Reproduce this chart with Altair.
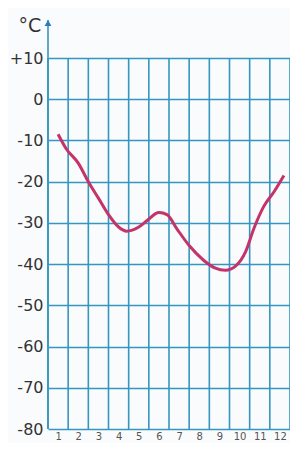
import altair as alt
import pandas as pd

# Curve (month position, temperature °C)
months = [1.0, 1.4, 2.0, 2.5, 3.0, 3.5, 4.0, 4.4, 5.0, 5.4, 6.0, 6.4, 6.9, 7.5,
          8.2, 8.8, 9.3, 9.8, 10.3, 10.7, 11.2, 11.7, 12.2]
temps = [-8.5, -12, -15.5, -20, -24, -28, -31, -32, -31, -29.5, -27.5, -28,
         -31.5, -35.5, -39, -41, -41.5, -40.5, -37, -31.5, -26, -22.5, -18.5]

month_labels = list(range(1, 13))
grid_x = [m + 0.5 for m in range(0, 13)]
y_ticks = [10, 0, -10, -20, -30, -40, -50, -60, -70, -80]

GRID = "#3596c0"
CURVE = "#c43369"
TEXT = "#333333"

x_scale = alt.Scale(domain=[0.5, 12.5], nice=False, zero=False)
y_scale = alt.Scale(domain=[-80, 10], nice=False, zero=False)

x_axis = alt.Axis(values=month_labels, grid=False, domain=False, ticks=False,
                  labelFontSize=10, labelColor="#555555", labelPadding=2,
                  labelOverlap=False, labelFont="DejaVu Sans", title=None)
y_axis = alt.Axis(values=y_ticks, grid=True, gridColor=GRID, gridWidth=1.6,
                  gridOpacity=1, domain=False, ticks=False,
                  labelExpr="datum.value > 0 ? '+' + datum.value : '' + datum.value",
                  labelFontSize=16, labelColor=TEXT, labelPadding=5,
                  labelOverlap=False, labelFont="DejaVu Sans", title=None)

line_df = pd.DataFrame({"month": months, "temp": temps})
grid_df = pd.DataFrame({"gx": grid_x})
one = pd.DataFrame({"a": [0]})

vgrid = alt.Chart(grid_df).mark_rule(color=GRID, strokeWidth=1.6).encode(
    x=alt.X("gx:Q", scale=x_scale, axis=x_axis),
)

curve = alt.Chart(line_df).mark_line(color=CURVE, strokeWidth=3,
                                     interpolate="monotone").encode(
    x=alt.X("month:Q", scale=x_scale, axis=x_axis),
    y=alt.Y("temp:Q", scale=y_scale, axis=y_axis),
)

axis_ext = alt.Chart(one).mark_rule(color=GRID, strokeWidth=1.6).encode(
    x=alt.value(0), y=alt.value(-38), y2=alt.value(371)
)

arrow = alt.Chart(one).mark_point(shape="triangle-up", filled=True, size=45,
                                  color="#2b7bbf", opacity=1).encode(
    x=alt.value(0), y=alt.value(-35)
)

unit = alt.Chart(one).mark_text(text="°C", fontSize=19, color=TEXT,
                                font="DejaVu Sans", align="center",
                                baseline="middle").encode(
    x=alt.value(-18), y=alt.value(-32)
)

chart = alt.layer(vgrid, axis_ext, arrow, unit, curve).properties(
    width=242, height=371,
    background="#fafbfd",
    autosize=alt.AutoSizeParams(type="none"),
    padding={"left": 40, "top": 50, "right": 0, "bottom": 14},
).configure_view(stroke=None)

chart.save("out.html", embed_options={"renderer": "svg", "actions": False})
